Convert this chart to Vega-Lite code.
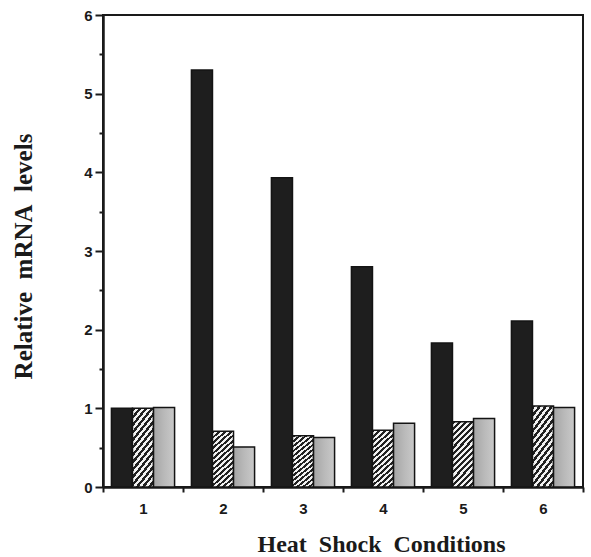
{
  "$schema": "https://vega.github.io/schema/vega-lite/v6.json",
  "width": 480,
  "height": 472,
  "autosize": {"type": "none"},
  "padding": {"left": 103, "top": 15, "right": 8, "bottom": 70},
  "background": "white",
  "config": {
    "view": {"stroke": "#1a1a1a", "strokeWidth": 2},
    "axis": {
      "domainColor": "#1a1a1a",
      "tickColor": "#1a1a1a",
      "labelColor": "#1a1a1a",
      "titleColor": "#1a1a1a",
      "grid": false,
      "domainWidth": 2.5,
      "tickWidth": 2,
      "labelFont": "Liberation Sans",
      "labelFontWeight": "bold",
      "labelFontSize": 15,
      "titleFont": "Liberation Serif",
      "titleFontWeight": "bold",
      "titleFontSize": 24
    }
  },
  "data": {
    "values": [
      {"condition": "1", "series": "A", "level": 1.0},
      {"condition": "1", "series": "B", "level": 1.0},
      {"condition": "1", "series": "C", "level": 1.01},
      {"condition": "2", "series": "A", "level": 5.3},
      {"condition": "2", "series": "B", "level": 0.71},
      {"condition": "2", "series": "C", "level": 0.51},
      {"condition": "3", "series": "A", "level": 3.93},
      {"condition": "3", "series": "B", "level": 0.65},
      {"condition": "3", "series": "C", "level": 0.63},
      {"condition": "4", "series": "A", "level": 2.8},
      {"condition": "4", "series": "B", "level": 0.72},
      {"condition": "4", "series": "C", "level": 0.81},
      {"condition": "5", "series": "A", "level": 1.83},
      {"condition": "5", "series": "B", "level": 0.83},
      {"condition": "5", "series": "C", "level": 0.87},
      {"condition": "6", "series": "A", "level": 2.11},
      {"condition": "6", "series": "B", "level": 1.03},
      {"condition": "6", "series": "C", "level": 1.01}
    ]
  },
  "encoding": {
    "x": {
      "field": "condition",
      "type": "ordinal",
      "scale": {"paddingInner": 0, "paddingOuter": 0},
      "axis": {
        "labelAngle": 0,
        "tickBand": "extent",
        "tickSize": 5,
        "labelPadding": 9,
        "title": "Heat\u00a0 Shock\u00a0 Conditions",
        "titleX": 278,
        "titleY": 64,
        "titleBaseline": "alphabetic",
        "titleAlign": "center"
      }
    },
    "xOffset": {
      "field": "series",
      "type": "nominal",
      "scale": {"domain": ["A", "B", "C"], "paddingInner": 0, "paddingOuter": 0.4}
    },
    "y": {
      "field": "level",
      "type": "quantitative",
      "scale": {"domain": [0, 6], "nice": false},
      "axis": {
        "values": [0, 0.5, 1, 1.5, 2, 2.5, 3, 3.5, 4, 4.5, 5, 5.5, 6],
        "labelExpr": "datum.value % 1 === 0 ? format(datum.value, 'd') : ''",
        "tickSize": {"condition": {"test": "datum.value % 1 === 0", "value": 8}, "value": 4},
        "labelPadding": 3,
        "title": "Relative\u00a0 mRNA\u00a0 levels",
        "titleFontSize": 25,
        "titleAngle": -90,
        "titleX": -80,
        "titleY": 241,
        "titleBaseline": "middle",
        "titleAlign": "center"
      }
    }
  },
  "layer": [
    {
      "transform": [{"filter": "datum.series === 'A'"}],
      "mark": {"type": "bar", "fill": "#1e1e1e", "stroke": "#141414", "strokeWidth": 1.5}
    },
    {
      "transform": [{"filter": "datum.series === 'B'"}],
      "mark": {
        "type": "bar",
        "stroke": "#141414",
        "strokeWidth": 1.5,
        "fill": {
          "gradient": "linear",
          "x1": 0, "y1": 0, "x2": 0.4, "y2": 1.2,
          "stops": [
            {"offset": 0, "color": "#222222"}, {"offset": 0.0357, "color": "#222222"}, {"offset": 0.0357, "color": "#f2f2f2"}, {"offset": 0.0714, "color": "#f2f2f2"},
            {"offset": 0.0714, "color": "#222222"}, {"offset": 0.1071, "color": "#222222"}, {"offset": 0.1071, "color": "#f2f2f2"}, {"offset": 0.1429, "color": "#f2f2f2"},
            {"offset": 0.1429, "color": "#222222"}, {"offset": 0.1786, "color": "#222222"}, {"offset": 0.1786, "color": "#f2f2f2"}, {"offset": 0.2143, "color": "#f2f2f2"},
            {"offset": 0.2143, "color": "#222222"}, {"offset": 0.25, "color": "#222222"}, {"offset": 0.25, "color": "#f2f2f2"}, {"offset": 0.2857, "color": "#f2f2f2"},
            {"offset": 0.2857, "color": "#222222"}, {"offset": 0.3214, "color": "#222222"}, {"offset": 0.3214, "color": "#f2f2f2"}, {"offset": 0.3571, "color": "#f2f2f2"},
            {"offset": 0.3571, "color": "#222222"}, {"offset": 0.3929, "color": "#222222"}, {"offset": 0.3929, "color": "#f2f2f2"}, {"offset": 0.4286, "color": "#f2f2f2"},
            {"offset": 0.4286, "color": "#222222"}, {"offset": 0.4643, "color": "#222222"}, {"offset": 0.4643, "color": "#f2f2f2"}, {"offset": 0.5, "color": "#f2f2f2"},
            {"offset": 0.5, "color": "#222222"}, {"offset": 0.5357, "color": "#222222"}, {"offset": 0.5357, "color": "#f2f2f2"}, {"offset": 0.5714, "color": "#f2f2f2"},
            {"offset": 0.5714, "color": "#222222"}, {"offset": 0.6071, "color": "#222222"}, {"offset": 0.6071, "color": "#f2f2f2"}, {"offset": 0.6429, "color": "#f2f2f2"},
            {"offset": 0.6429, "color": "#222222"}, {"offset": 0.6786, "color": "#222222"}, {"offset": 0.6786, "color": "#f2f2f2"}, {"offset": 0.7143, "color": "#f2f2f2"},
            {"offset": 0.7143, "color": "#222222"}, {"offset": 0.75, "color": "#222222"}, {"offset": 0.75, "color": "#f2f2f2"}, {"offset": 0.7857, "color": "#f2f2f2"},
            {"offset": 0.7857, "color": "#222222"}, {"offset": 0.8214, "color": "#222222"}, {"offset": 0.8214, "color": "#f2f2f2"}, {"offset": 0.8571, "color": "#f2f2f2"},
            {"offset": 0.8571, "color": "#222222"}, {"offset": 0.8929, "color": "#222222"}, {"offset": 0.8929, "color": "#f2f2f2"}, {"offset": 0.9286, "color": "#f2f2f2"},
            {"offset": 0.9286, "color": "#222222"}, {"offset": 0.9643, "color": "#222222"}, {"offset": 0.9643, "color": "#f2f2f2"}, {"offset": 1, "color": "#f2f2f2"}
          ]
        }
      }
    },
    {
      "transform": [{"filter": "datum.series === 'C'"}],
      "mark": {
        "type": "bar",
        "stroke": "#141414",
        "strokeWidth": 1.5,
        "fill": {
          "gradient": "linear",
          "x1": 0, "y1": 0, "x2": 1, "y2": 0,
          "stops": [
            {"offset": 0, "color": "#a4a4a4"},
            {"offset": 0.5, "color": "#b9b9b9"},
            {"offset": 1, "color": "#c9c9c9"}
          ]
        }
      }
    }
  ]
}
